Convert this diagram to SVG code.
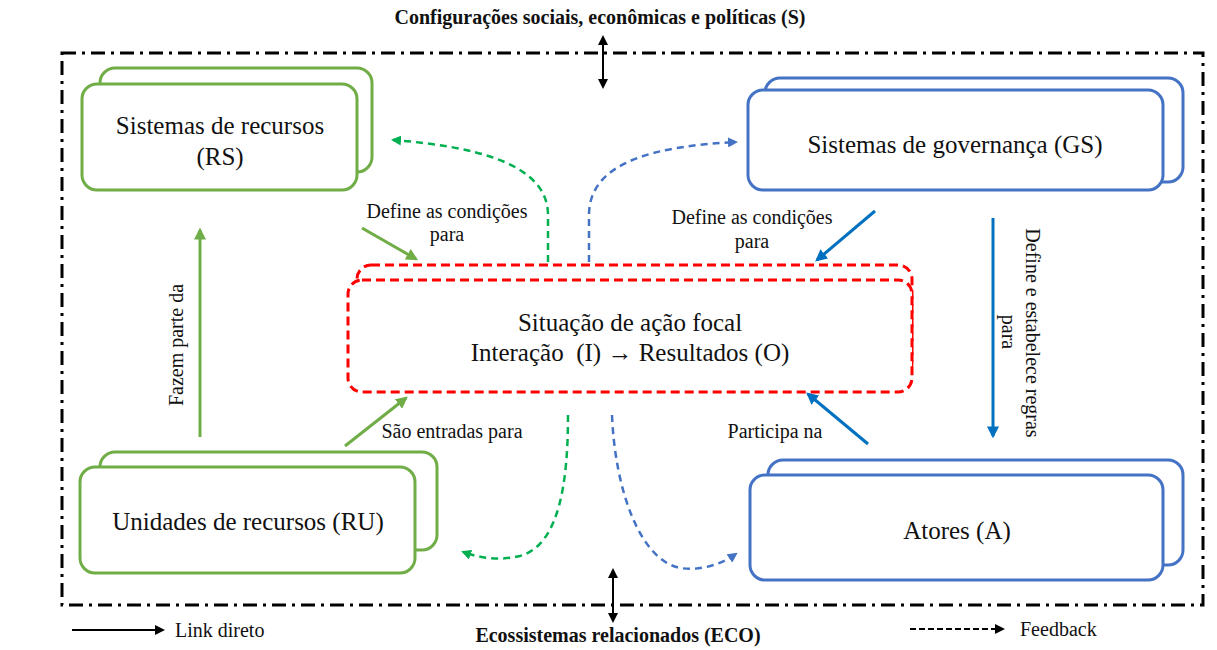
<svg xmlns="http://www.w3.org/2000/svg" width="1217" height="650" viewBox="0 0 1217 650">
<style>
text{font-family:"Liberation Serif","Times New Roman",serif;fill:#111}
.big{font-size:25px}
.lab{font-size:20px}
.bold{font-size:20px;font-weight:bold}
.g{fill:#fff;stroke:#70AD47;stroke-width:3}
.b{fill:#fff;stroke:#4472C4;stroke-width:3}
.r{fill:#fff;stroke:#FF0000;stroke-width:3;stroke-dasharray:9 5}
.gs{fill:none;stroke:#70AD47;stroke-width:3}
.bs{fill:none;stroke:#0070C0;stroke-width:3}
.gd{fill:none;stroke:#00B050;stroke-width:2.5;stroke-dasharray:7 5}
.bd{fill:none;stroke:#4472C4;stroke-width:2.5;stroke-dasharray:7 5}
.k{fill:none;stroke:#000;stroke-width:2}
</style>
<defs>
<marker id="ag" viewBox="0 0 10 10" refX="8" refY="5" markerWidth="4" markerHeight="4" orient="auto"><path d="M0,0L10,5L0,10z" fill="#70AD47"/></marker>
<marker id="ab" viewBox="0 0 10 10" refX="8" refY="5" markerWidth="4" markerHeight="4" orient="auto"><path d="M0,0L10,5L0,10z" fill="#0070C0"/></marker>
<marker id="agd" viewBox="0 0 10 10" refX="8" refY="5" markerWidth="4" markerHeight="4" orient="auto"><path d="M0,0L10,5L0,10z" fill="#00B050"/></marker>
<marker id="abd" viewBox="0 0 10 10" refX="8" refY="5" markerWidth="4" markerHeight="4" orient="auto"><path d="M0,0L10,5L0,10z" fill="#4472C4"/></marker>
<marker id="ak" viewBox="0 0 10 10" refX="8" refY="5" markerWidth="5" markerHeight="5" orient="auto-start-reverse"><path d="M0,0L10,5L0,10z" fill="#000"/></marker>
</defs>
<rect width="1217" height="650" fill="#fff"/>
<g id="frame">
<rect x="62" y="53" width="1141" height="552" fill="none" stroke="#000" stroke-width="3" stroke-dasharray="14 6 3 6"/>
<text class="bold" x="600" y="24" text-anchor="middle">Configurações sociais, econômicas e políticas (S)</text>
<text class="bold" x="618" y="642" text-anchor="middle">Ecossistemas relacionados (ECO)</text>
</g>
<g id="node-RS">
<rect class="g" x="100" y="68" width="272" height="104" rx="15"/>
<rect class="g" x="82" y="84" width="275" height="106" rx="15"/>
<text class="big" x="220" y="134" text-anchor="middle">Sistemas de recursos</text>
<text class="big" x="220" y="165" text-anchor="middle">(RS)</text>
</g>
<g id="node-GS">
<rect class="b" x="765" y="78" width="418" height="104" rx="15"/>
<rect class="b" x="748" y="90" width="415" height="100" rx="15"/>
<text class="big" x="955" y="153" text-anchor="middle">Sistemas de governança (GS)</text>
</g>
<g id="node-focal">
<rect class="r" x="357" y="265" width="555" height="112" rx="14"/>
<rect class="r" x="348" y="280" width="564" height="112" rx="14"/>
<text class="big" x="630" y="331" text-anchor="middle">Situação de ação focal</text>
<text class="big" x="630" y="361" text-anchor="middle" xml:space="preserve">Interação  (I) → Resultados (O)</text>
</g>
<g id="node-RU">
<rect class="g" x="100" y="452" width="337" height="98" rx="15"/>
<rect class="g" x="80" y="467" width="335" height="106" rx="15"/>
<text class="big" x="248" y="530" text-anchor="middle">Unidades de recursos (RU)</text>
</g>
<g id="node-A">
<rect class="b" x="768" y="460" width="415" height="105" rx="15"/>
<rect class="b" x="750" y="475" width="413" height="105" rx="15"/>
<text class="big" x="957" y="539" text-anchor="middle">Atores (A)</text>
</g>
<g id="connectors">
<line class="k" x1="603" y1="37" x2="603" y2="87" marker-start="url(#ak)" marker-end="url(#ak)"/>
<line class="k" x1="613" y1="570" x2="613" y2="621" marker-start="url(#ak)" marker-end="url(#ak)"/>
<line class="gs" x1="200" y1="437" x2="200" y2="230" marker-end="url(#ag)"/>
<line class="gs" x1="362" y1="228" x2="416" y2="259" marker-end="url(#ag)"/>
<line class="gs" x1="345" y1="446" x2="406" y2="398" marker-end="url(#ag)"/>
<line class="bs" x1="875" y1="211" x2="817" y2="260" marker-end="url(#ab)"/>
<line class="bs" x1="993" y1="218" x2="993" y2="436" marker-end="url(#ab)"/>
<line class="bs" x1="868" y1="444" x2="808" y2="394" marker-end="url(#ab)"/>
<path class="gd" d="M548,262 L548,215 C548,162 470,146 393,140" marker-end="url(#agd)"/>
<path class="bd" d="M589,262 L589,215 C589,160 660,146 736,142" marker-end="url(#abd)"/>
<path class="gd" d="M568,415 C568,480 560,545 520,556 C500,561 480,558 463,552" marker-end="url(#agd)"/>
<path class="bd" d="M612,415 C615,490 640,560 680,568 C700,571 720,565 736,554" marker-end="url(#abd)"/>
<line class="k" x1="72" y1="630" x2="163" y2="630" marker-end="url(#ak)"/>
<line x1="910" y1="629" x2="1003" y2="629" stroke="#000" stroke-width="2" stroke-dasharray="6 3" marker-end="url(#ak)"/>
</g>
<g id="labels">
<text class="lab" x="447" y="218" text-anchor="middle">Define as condições</text>
<text class="lab" x="447" y="241" text-anchor="middle">para</text>
<text class="lab" x="752" y="224" text-anchor="middle">Define as condições</text>
<text class="lab" x="752" y="248" text-anchor="middle">para</text>
<text class="lab" x="452" y="438" text-anchor="middle">São entradas para</text>
<text class="lab" x="775" y="438" text-anchor="middle">Participa na</text>
<text class="lab" transform="translate(183,345) rotate(-90)" text-anchor="middle">Fazem parte da</text>
<text class="lab" transform="translate(1026,333) rotate(90)" text-anchor="middle">Define e estabelece regras</text>
<text class="lab" transform="translate(1002,332) rotate(90)" text-anchor="middle">para</text>
<text class="lab" x="175" y="637">Link direto</text>
<text class="lab" x="1020" y="636">Feedback</text>
</g>
</svg>
